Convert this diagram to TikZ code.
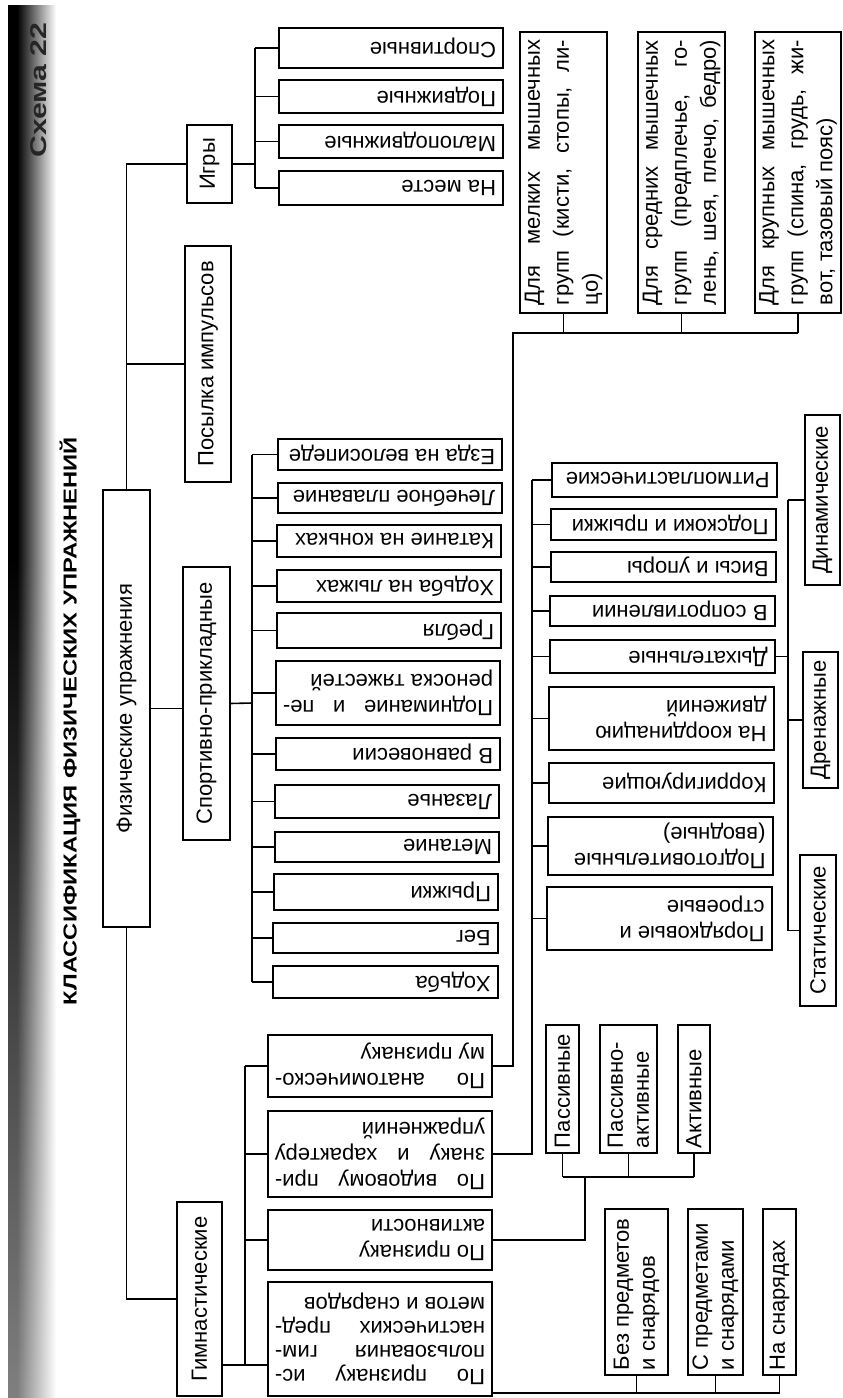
\documentclass[tikz,border=0pt]{standalone}
\usepackage{fontspec}
\setmainfont{Liberation Sans}
\usepackage{graphicx}
\usetikzlibrary{fadings}
\newcommand\J[1]{\makebox[\linewidth][s]{#1}}
\newcommand\Fl[2]{\rotatebox{180}{\parbox{#1pt}{\raggedright #2}}}
\newcommand\Up[2]{\rotatebox{90}{\parbox{#1pt}{\raggedright #2}}}
\newcommand\Bx[6]{\node[box, minimum width={#4-#2}, minimum height={#5-#3}] (#1) at ({(#2+#4)/2},{(#3+#5)/2}) {#6};}
\tikzset{
  box/.style={draw, line width=1.6pt, inner sep=0pt, outer sep=0pt},
  ln/.style={line width=1.6pt}
}
\begin{document}
\begin{tikzpicture}[x=1pt,y=-1pt,font=\fontsize{22}{26}\selectfont]
\useasboundingbox (0,0) rectangle (843,1398);
% scan shadow band
\fill[black] (8,5) rectangle (17,1398);
\shade[left color=black, right color=white] (17,5) rectangle (56,1398);
\fill[white, path fading=north, fill opacity=0.5] (8,560) rectangle (56,1398);
\node[rotate=90, inner sep=0pt, text=black!85] (sch) at (39,90) {\resizebox{135pt}{16pt}{\bfseries Схема 22}};
\node[rotate=90, inner sep=0pt] (title) at (70,721) {\resizebox{568pt}{17pt}{\bfseries КЛАССИФИКАЦИЯ ФИЗИЧЕСКИХ УПРАЖНЕНИЙ}};
% main column
\Bx{igry}{187}{125}{232}{203}{\rotatebox{90}{Игры}}
\Bx{posyl}{185}{246}{231}{482}{\rotatebox{90}{Посылка импульсов}}
\Bx{fiz}{103}{490}{150}{927}{\rotatebox{90}{Физические упражнения}}
\Bx{sport}{183}{567}{230}{840}{\rotatebox{90}{Спортивно-прикладные}}
\Bx{gimn}{177}{1202}{222}{1396}{\rotatebox{90}{Гимнастические}}
% games
\Bx{g1}{279}{28}{503}{68}{\Fl{210}{Спортивные}}
\Bx{g2}{279}{80}{503}{113}{\Fl{210}{Подвижные}}
\Bx{g3}{279}{125}{503}{158}{\Fl{210}{Малоподвижные}}
\Bx{g4}{279}{171}{503}{205}{\Fl{210}{На месте}}
% sport-applied
\Bx{s1}{278}{439}{502}{470}{\Fl{210}{Езда на велосипеде}}
\Bx{s2}{278}{483}{502}{513}{\Fl{210}{Лечебное плавание}}
\Bx{s3}{277}{525}{501}{557}{\Fl{210}{Катание на коньках}}
\Bx{s4}{277}{570}{501}{602}{\Fl{210}{Ходьба на лыжах}}
\Bx{s5}{277}{613}{501}{648}{\Fl{210}{Гребля}}
\Bx{s6}{276}{661}{500}{725}{\Fl{210}{\J{Поднимание и пе-}\\реноска тяжестей}}
\Bx{s7}{276}{738}{500}{770}{\Fl{210}{В равновесии}}
\Bx{s8}{275}{785}{499}{818}{\Fl{210}{Лазанье}}
\Bx{s9}{275}{832}{499}{862}{\Fl{210}{Метание}}
\Bx{s10}{274}{874}{498}{910}{\Fl{210}{Прыжки}}
\Bx{s11}{273}{923}{498}{953}{\Fl{210}{Бег}}
\Bx{s12}{273}{966}{498}{998}{\Fl{210}{Ходьба}}
% gymnastics criteria
\Bx{a1}{268}{1035}{492}{1097}{\Fl{210}{\J{По анатомическо-}\\му признаку}}
\Bx{a2}{268}{1111}{492}{1197}{\Fl{210}{\J{По видовому при-}\\\J{знаку и характеру}\\упражнений}}
\Bx{a3}{268}{1210}{492}{1270}{\Fl{210}{По признаку\\активности}}
\Bx{a4}{268}{1282}{492}{1396}{\Fl{210}{\baselineskip=24pt\J{По признаку ис-}\\\J{пользования гим-}\\\J{настических пред-}\\метов и снарядов}}
% muscle groups
\Bx{d1}{520}{32}{607}{313}{\Up{265}{\baselineskip=29pt\J{Для мелких мышечных}\\\J{групп (кисти, стопы, ли-}\\цо)}}
\Bx{d2}{638}{32}{725}{313}{\Up{265}{\baselineskip=29pt\J{Для средних мышечных}\\\J{групп (предплечье, го-}\\\J{лень, шея, плечо, бедро)}}}
\Bx{d3}{755}{32}{841}{313}{\Up{265}{\baselineskip=29pt\J{Для крупных мышечных}\\\J{групп (спина, грудь, жи-}\\вот, тазовый пояс)}}
% kinds
\Bx{r1}{552}{463}{777}{497}{\Fl{210}{Ритмопластические}}
\Bx{r2}{551}{509}{776}{540}{\Fl{210}{Подскоки и прыжки}}
\Bx{r3}{551}{552}{776}{582}{\Fl{210}{Висы и упоры}}
\Bx{r4}{550}{596}{775}{626}{\Fl{210}{В сопротивлении}}
\Bx{r5}{550}{640}{775}{673}{\Fl{210}{Дыхательные}}
\Bx{r6}{549}{687}{774}{750}{\Fl{210}{На координацию\\движений}}
\Bx{r7}{549}{763}{774}{803}{\Fl{210}{Корригирующие}}
\Bx{r8}{548}{817}{773}{875}{\Fl{210}{Подготовительные\\(вводные)}}
\Bx{r9}{547}{887}{772}{950}{\Fl{210}{Порядковые и\\строевые}}
% breathing
\Bx{dyn}{805}{415}{840}{585}{\rotatebox{90}{Динамические}}
\Bx{dren}{803}{652}{838}{788}{\rotatebox{90}{Дренажные}}
\Bx{stat}{800}{855}{836}{1006}{\rotatebox{90}{Статические}}
% activity
\Bx{p1}{546}{1025}{579}{1153}{\Up{118}{Пассивные}}
\Bx{p2}{600}{1025}{657}{1153}{\Up{118}{Пассивно-\\активные}}
\Bx{p3}{678}{1025}{710}{1153}{\Up{118}{Активные}}
% equipment
\Bx{e1}{605}{1209}{668}{1375}{\Up{156}{Без предметов\\и снарядов}}
\Bx{e2}{688}{1209}{743}{1375}{\Up{156}{С предметами\\и снарядами}}
\Bx{e3}{763}{1209}{796}{1375}{\Up{156}{На снарядах}}
% bus coordinates
\coordinate (gbus) at (255,164);
\coordinate (sbus) at (252,703);
\coordinate (gj) at (245,1365);
\coordinate (anx) at (513,333);
\coordinate (spx) at (532,0);
\coordinate (brx) at (788,0);
\coordinate (acb) at (585,1177);
\coordinate (eqb) at (0,1393);
% trunk
\draw[ln] (igry.west) -| (fiz.north);
\draw[ln] (posyl.west) -- (posyl.west -| fiz.north);
\draw[ln] (fiz.south) |- (gimn.west);
\draw[ln] (fiz.east) -- (fiz.east -| sport.west);
% games
\draw[ln] (igry.east) -- (gbus);
\foreach \c in {g1,g2,g3,g4} \draw[ln] (\c.west) -- (\c.west -| gbus);
\draw[ln] (g1.west -| gbus) -- (g4.west -| gbus);
% sport
\draw[ln] (sport.east) -- (sbus);
\foreach \c in {s1,s2,s3,s4,s5,s6,s7,s8,s9,s10,s11,s12} \draw[ln] (\c.west) -- (\c.west -| sbus);
\draw[ln] (s1.west -| sbus) -- (s12.west -| sbus);
% gymnastics
\draw[ln] (gimn.east |- gj) -- (a4.west |- gj);
\foreach \c in {a1,a2,a3} \draw[ln] (\c.west) -- (\c.west -| gj);
\draw[ln] (a1.west -| gj) -- (gj);
% anatomical
\draw[ln] (a1.east) -| (anx) -- (anx -| d3.south);
\foreach \c in {d1,d2,d3} \draw[ln] (\c.south) -- (\c.south |- anx);
% kinds
\draw[ln] (a2.east) -| (r1.west -| spx);
\foreach \c in {r1,r2,r3,r4,r5,r6,r7,r8,r9} \draw[ln] (\c.west) -- (\c.west -| spx);
% breathing
\draw[ln] (r5.east) -- (r5.east -| brx);
\draw[ln] (dyn.west -| brx) -- (stat.west -| brx);
\foreach \c in {dyn,dren,stat} \draw[ln] (\c.west) -- (\c.west -| brx);
% activity
\draw[ln] (a3.east) -| (acb);
\draw[ln] (p1.south |- acb) -- (p3.south |- acb);
\foreach \c in {p1,p2,p3} \draw[ln] (\c.south) -- (\c.south |- acb);
% equipment
\draw[ln] (a4.east |- eqb) -- (e3.south |- eqb);
\foreach \c in {e1,e2,e3} \draw[ln] (\c.south) -- (\c.south |- eqb);
\end{tikzpicture}
\end{document}
